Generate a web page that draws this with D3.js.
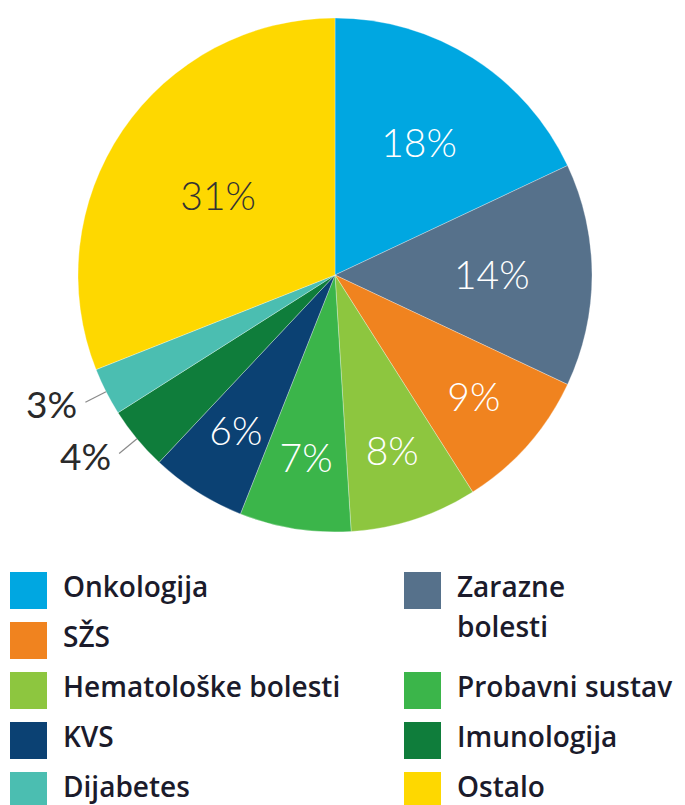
<!DOCTYPE html>
<html>
<head>
<meta charset="utf-8">
<script src="https://cdn.jsdelivr.net/npm/d3@7"></script>
<style>
  html, body { margin: 0; padding: 0; background: #fff; }
  svg { display: block; }
</style>
</head>
<body>
<div id="chart"></div>
<script>
// Data
const categories = ['Onkologija', 'Zarazne bolesti', 'SŽS', 'Hematološke bolesti', 'Probavni sustav',
                    'KVS', 'Imunologija', 'Dijabetes', 'Ostalo'];
const shares = [18, 14, 9, 8, 7, 6, 4, 3, 31];
const colours = ['#00a7e1', '#56718b', '#f0831f', '#8dc63f', '#3bb54a', '#0b4173', '#0f7d3b', '#4bbeb1', '#fed800'];
const legendColumns = [
    ['Onkologija', 'SŽS', 'Hematološke bolesti', 'KVS', 'Dijabetes'],
    ['Zarazne bolesti', 'Probavni sustav', 'Imunologija', 'Ostalo']
];
const legendWrapped = { 'Zarazne bolesti': ['Zarazne', 'bolesti'] };

const width = 685, height = 805;
const cx = 335, cy = 275, radius = 257;

const svg = d3.select('#chart').append('svg')
    .attr('width', width)
    .attr('height', height);

const data = categories.map((c, i) => ({ name: c, value: shares[i], colour: colours[i] }));

const pie = d3.pie().value(d => d.value).sort(null);
const arcs = pie(data);

const arc = d3.arc().innerRadius(0).outerRadius(radius);
const mid = d => (d.startAngle + d.endAngle) / 2;

const g = svg.append('g').attr('transform', `translate(${cx},${cy})`);

g.selectAll('path.slice')
    .data(arcs)
    .join('path')
    .attr('class', 'slice')
    .attr('d', arc)
    .attr('fill', d => d.data.colour)
    .attr('stroke', '#ffffff')
    .attr('stroke-opacity', 0.5)
    .attr('stroke-width', 0.6);

// Inside labels: big slices sit nearer the centre
const inside = arcs.filter(d => d.data.value >= 5);
const outside = arcs.filter(d => d.data.value < 5);

function labelRadius(v) {
    if (v > 25) return radius * 0.55;
    if (v >= 10) return radius * 0.61;
    return radius * 0.72;
}

g.selectAll('text.inner')
    .data(inside)
    .join('text')
    .attr('class', 'inner')
    .attr('transform', d => {
        const r = labelRadius(d.data.value);
        return `translate(${Math.sin(mid(d)) * r},${-Math.cos(mid(d)) * r})`;
    })
    .attr('text-anchor', 'middle')
    .attr('dy', '0.36em')
    .attr('font-family', 'Lato, "Open Sans", sans-serif')
    .attr('font-weight', 300)
    .attr('font-size', 39)
    .attr('fill', d => d.data.name === 'Ostalo' ? '#333333' : '#ffffff')
    .text(d => d.data.value + '%');

// Outside labels with leader lines
const outer = g.selectAll('g.outer')
    .data(outside)
    .join('g')
    .attr('class', 'outer');

outer.append('line')
    .attr('x1', d => Math.sin(mid(d)) * radius)
    .attr('y1', d => -Math.cos(mid(d)) * radius)
    .attr('x2', d => Math.sin(mid(d)) * radius * 1.09)
    .attr('y2', d => -Math.cos(mid(d)) * radius * 1.09)
    .attr('stroke', '#8a8a8a')
    .attr('stroke-width', 1.2);

outer.append('text')
    .attr('x', d => Math.sin(mid(d)) * radius * 1.1 - 6)
    .attr('y', d => -Math.cos(mid(d)) * radius * 1.1)
    .attr('text-anchor', 'end')
    .attr('dy', '0.4em')
    .attr('font-family', 'Lato, "Open Sans", sans-serif')
    .attr('font-weight', 400)
    .attr('font-size', 37)
    .attr('fill', '#2a2a2a')
    .text(d => d.data.value + '%');

// Legend
const colourOf = d3.scaleOrdinal().domain(categories).range(colours);
const legendTop = 572, rowH = 50, sw = 37;
const colX = [10, 404];

legendColumns.forEach((col, ci) => {
    let row = 0;
    col.forEach(name => {
        const lines = legendWrapped[name] || [name];
        const y = legendTop + row * rowH;
        const item = svg.append('g').attr('transform', `translate(${colX[ci]},${y})`);
        item.append('rect')
            .attr('width', sw)
            .attr('height', sw)
            .attr('fill', colourOf(name));
        item.append('text')
            .attr('y', 25)
            .attr('font-family', '"Open Sans", sans-serif')
            .attr('font-weight', 600)
            .attr('font-size', 28)
            .attr('fill', '#1b1b2b')
            .selectAll('tspan')
            .data(lines)
            .join('tspan')
            .attr('x', sw + 16)
            .attr('dy', (d, i) => i === 0 ? 0 : 40)
            .text(d => d);
        row += lines.length;
    });
});
</script>
</body>
</html>
